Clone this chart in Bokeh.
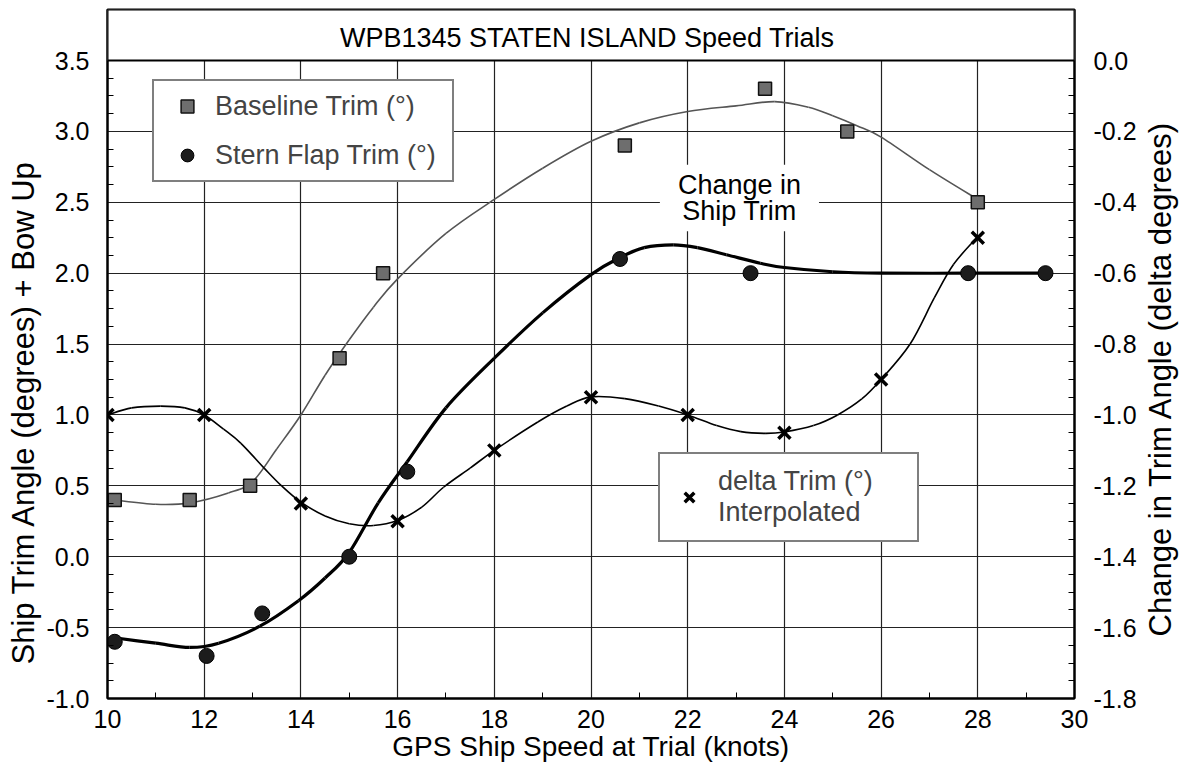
import math
import numpy as np
from bokeh.plotting import figure
from bokeh.layouts import row
from bokeh.models import (Range1d, LinearAxis, FixedTicker, PrintfTickFormatter,
                          Label, BoxAnnotation, Legend, LegendItem, ColumnDataSource, Title)
from bokeh.embed import file_html
from bokeh.resources import INLINE

FONT = "Liberation Sans"

# ---------------- data ----------------
baseline_speed = [10.15, 11.7, 12.95, 14.8, 15.7, 20.7, 23.6, 25.3, 28.0]
baseline_trim = [0.4, 0.4, 0.5, 1.4, 2.0, 2.9, 3.3, 3.0, 2.5]

flap_speed = [10.15, 12.05, 13.2, 15.0, 16.2, 20.6, 23.3, 27.8, 29.4]
flap_trim = [-0.6, -0.7, -0.4, 0.0, 0.6, 2.1, 2.0, 2.0, 2.0]

delta_speed = [10, 12, 14, 16, 18, 20, 22, 24, 26, 28]
delta_trim = [-1.0, -1.0, -1.25, -1.3, -1.1, -0.95, -1.0, -1.05, -0.9, -0.5]

# fitted curves
baseline_fit_speed = [10.15, 11.0, 11.7, 12.5, 13.0, 13.5, 14.0, 14.5, 15.0, 15.5, 16.0,
                      17.0, 18.0, 19.0, 20.0, 21.0, 22.0, 23.0, 23.8, 24.5, 25.0, 25.5,
                      26.0, 27.0, 28.0]
baseline_fit_trim = [0.40, 0.37, 0.38, 0.45, 0.53, 0.76, 1.00, 1.28, 1.53, 1.76, 1.96,
                     2.28, 2.52, 2.74, 2.93, 3.06, 3.14, 3.18, 3.21, 3.17, 3.11, 3.04,
                     2.96, 2.73, 2.52]

flap_fit_speed = [10.1, 11.0, 11.7, 12.3, 13.15, 13.95, 14.5, 15.0, 15.6, 16.2, 17.0,
                  18.0, 19.0, 20.0, 20.6, 21.1, 21.7, 22.2, 22.8, 23.5, 24.0, 25.0,
                  26.0, 27.8, 29.4]
flap_fit_trim = [-0.57, -0.61, -0.64, -0.61, -0.49, -0.31, -0.15, 0.03, 0.38, 0.67, 1.05,
                 1.40, 1.72, 1.99, 2.11, 2.18, 2.20, 2.18, 2.13, 2.07, 2.04, 2.01,
                 2.0, 2.0, 2.0]

delta_fit_speed = [10.0, 10.5, 11.1, 11.6, 12.0, 12.4, 12.76, 13.24, 13.6, 14.0, 14.5,
                   15.0, 15.5, 16.0, 16.5, 16.95, 17.5, 18.0, 18.9, 19.5, 20.0, 20.7,
                   21.4, 22.0, 22.6, 23.1, 23.6, 24.0, 24.6, 25.1, 25.6, 26.0, 26.6,
                   27.1, 27.5, 28.0]
delta_fit_trim = [-1.0, -0.98, -0.975, -0.98, -1.0, -1.04, -1.08, -1.15, -1.20, -1.246,
                  -1.285, -1.307, -1.312, -1.298, -1.26, -1.204, -1.15, -1.10, -1.02,
                  -0.975, -0.949, -0.954, -0.975, -1.0, -1.03, -1.047, -1.052, -1.048,
                  -1.03, -1.0, -0.955, -0.9, -0.80, -0.67, -0.575, -0.497]

x_ticks = [10, 12, 14, 16, 18, 20, 22, 24, 26, 28, 30]
x_minor_ticks = [11, 13, 15, 17, 19, 21, 23, 25, 27, 29]
left_ticks = [-1.0, -0.5, 0.0, 0.5, 1.0, 1.5, 2.0, 2.5, 3.0, 3.5]
right_ticks = [-1.8, -1.6, -1.4, -1.2, -1.0, -0.8, -0.6, -0.4, -0.2, 0.0]

title_text = "WPB1345 STATEN ISLAND  Speed Trials"
x_label = "GPS Ship Speed at Trial (knots)"
left_label = "Ship Trim Angle (degrees)  + Bow Up"
right_label = "Change in Trim Angle (delta degrees)"
note_text = "Change in\nShip Trim"
legend_labels = ["Baseline Trim (°)", "Stern Flap Trim (°)", "delta Trim (°)\nInterpolated"]

# ---------------- layout ----------------
TOTAL_W, H = 1179, 774
SIDE_W = 40                      # strip holding the right-hand axis title
W = TOTAL_W - SIDE_W
B_LEFT, B_TOP = 105, 9
FRAME_W, FRAME_H = 970, 689
B_RIGHT = W - B_LEFT - FRAME_W
B_BOTTOM = H - B_TOP - FRAME_H
TITLE_PX = 51

y_bottom, y_plot_top = left_ticks[0], left_ticks[-1]
y_top = y_bottom + (y_plot_top - y_bottom) * FRAME_H / (FRAME_H - TITLE_PX)
r_bottom, r_plot_top = right_ticks[0], right_ticks[-1]
r_top = r_bottom + (r_plot_top - r_bottom) * FRAME_H / (FRAME_H - TITLE_PX)


def smooth(xs, ys):
    """Catmull-Rom -> cubic Bezier segments through the traced points."""
    n = len(xs)
    d = {k: [] for k in ("x0", "y0", "x1", "y1", "cx0", "cy0", "cx1", "cy1")}
    for i in range(n - 1):
        im = max(i - 1, 0)
        ip = min(i + 2, n - 1)
        d["x0"].append(xs[i]); d["y0"].append(ys[i])
        d["x1"].append(xs[i + 1]); d["y1"].append(ys[i + 1])
        d["cx0"].append(xs[i] + (xs[i + 1] - xs[im]) / 6.0)
        d["cy0"].append(ys[i] + (ys[i + 1] - ys[im]) / 6.0)
        d["cx1"].append(xs[i + 1] - (xs[ip] - xs[i]) / 6.0)
        d["cy1"].append(ys[i + 1] - (ys[ip] - ys[i]) / 6.0)
    return ColumnDataSource(d)


p = figure(width=W, height=H, output_backend="svg", toolbar_location=None,
           x_range=Range1d(x_ticks[0], x_ticks[-1]), y_range=Range1d(y_bottom, y_top),
           min_border_left=B_LEFT, min_border_right=B_RIGHT,
           min_border_top=B_TOP, min_border_bottom=B_BOTTOM,
           background_fill_color="white", border_fill_color="white",
           outline_line_color="black", outline_line_width=2)
p.extra_y_ranges = {"r": Range1d(r_bottom, r_top)}

# axes
left_minor = [v for v in np.arange(y_bottom, y_plot_top + 1e-9, 0.125).round(3).tolist()
              if v not in left_ticks]
right_minor = [v for v in np.arange(r_bottom, r_plot_top + 1e-9, 0.05).round(3).tolist()
               if round(v, 3) not in [round(t, 3) for t in right_ticks]]

xaxis = p.xaxis[0]
xaxis.ticker = FixedTicker(ticks=x_ticks, minor_ticks=x_minor_ticks)
yaxis = p.yaxis[0]
yaxis.ticker = FixedTicker(ticks=left_ticks, minor_ticks=left_minor)
yaxis.formatter = PrintfTickFormatter(format="%.1f")
raxis = LinearAxis(y_range_name="r",
                   ticker=FixedTicker(ticks=right_ticks, minor_ticks=right_minor),
                   formatter=PrintfTickFormatter(format="%.1f"))
p.add_layout(raxis, "right")

for ax in (xaxis, yaxis, raxis):
    ax.axis_line_color = "black"
    ax.axis_line_width = 2
    ax.major_tick_in = 0
    ax.major_tick_out = 0
    ax.minor_tick_in = 6
    ax.minor_tick_out = 0
    ax.minor_tick_line_color = "black"
    ax.minor_tick_line_width = 1
    ax.major_label_text_font = FONT
    ax.major_label_text_font_size = "25px"
    ax.major_label_text_color = "black"

yaxis.major_label_standoff = 18
raxis.major_label_standoff = 19
xaxis.major_label_standoff = 11

xaxis.axis_label = x_label
xaxis.axis_label_text_font = FONT
xaxis.axis_label_text_font_size = "28px"
xaxis.axis_label_text_font_style = "normal"
xaxis.axis_label_text_color = "black"
xaxis.axis_label_standoff = 0

# left axis title (rotated, reads bottom to top)
p.add_layout(Title(text=left_label, align="left", offset=34, vertical_align="bottom",
                   standoff=6, text_font=FONT, text_font_size="31px",
                   text_font_style="normal", text_color="black"), "left")

# grid
p.xgrid.ticker = FixedTicker(ticks=x_ticks)
p.ygrid.ticker = FixedTicker(ticks=left_ticks)
for g in (p.xgrid, p.ygrid):
    g.grid_line_color = "#222222"
    g.grid_line_width = 1.2

# curves
p.bezier(x0="x0", y0="y0", x1="x1", y1="y1", cx0="cx0", cy0="cy0", cx1="cx1", cy1="cy1",
         source=smooth(baseline_fit_speed, baseline_fit_trim),
         line_color="#555555", line_width=1.6)
p.bezier(x0="x0", y0="y0", x1="x1", y1="y1", cx0="cx0", cy0="cy0", cx1="cx1", cy1="cy1",
         source=smooth(flap_fit_speed, flap_fit_trim),
         line_color="black", line_width=3.2)
p.bezier(x0="x0", y0="y0", x1="x1", y1="y1", cx0="cx0", cy0="cy0", cx1="cx1", cy1="cy1",
         source=smooth(delta_fit_speed, delta_fit_trim), y_range_name="r",
         line_color="black", line_width=1.6)

# points
r_base = p.scatter(baseline_speed, baseline_trim, marker="square", size=13,
                   fill_color="#6e6e6e", line_color="#111111", line_width=1.5)
r_flap = p.scatter(flap_speed, flap_trim, marker="circle", size=15,
                   fill_color="#1c1c1c", line_color="black", line_width=1)
r_delta = p.scatter(delta_speed, delta_trim, marker="x", size=17, y_range_name="r",
                    line_color="black", line_width=3.5)

# title band
p.add_layout(BoxAnnotation(bottom=y_plot_top, fill_color="white", fill_alpha=1.0,
                           line_color="black", line_width=2, line_alpha=1.0))
p.add_layout(Label(x=(x_ticks[0] + x_ticks[-1]) / 2, y=(y_plot_top + y_top) / 2 - 0.02,
                   text=title_text, text_align="center", text_baseline="middle",
                   text_font=FONT, text_font_size="27px", text_color="black"))

# inline note
p.add_layout(Label(x=23.07, y=2.53, text=note_text, text_align="center",
                   text_baseline="middle", text_font=FONT, text_font_size="27px",
                   text_color="black", text_line_height=0.88,
                   background_fill_color="white", background_fill_alpha=1.0,
                   padding=dict(left=18, right=18, top=5, bottom=5)))

# legends
leg1 = Legend(items=[LegendItem(label=legend_labels[0], renderers=[r_base]),
                     LegendItem(label=legend_labels[1], renderers=[r_flap])],
              location=(45, 516), margin=0, padding=9, spacing=17,
              glyph_width=48, glyph_height=32, label_height=32, label_width=228,
              label_standoff=4, label_text_font=FONT, label_text_font_size="27px",
              border_line_color="black", border_line_width=2,
              background_fill_color="white", background_fill_alpha=1.0)
leg2 = Legend(items=[LegendItem(label=legend_labels[2], renderers=[r_delta])],
              location=(551, 156), margin=0, padding=12, spacing=0,
              glyph_width=34, glyph_height=54, label_height=54, label_width=187,
              label_standoff=12, label_text_font=FONT, label_text_font_size="27px",
              label_text_line_height=0.75,
              border_line_color="black", border_line_width=2,
              background_fill_color="white", background_fill_alpha=1.0)
p.add_layout(leg1)
p.add_layout(leg2)

# narrow strip to the right holding the right-hand axis title (reads bottom to top);
# its frame is aligned with the main frame by the row layout
side = figure(width=SIDE_W, height=H, output_backend="svg", toolbar_location=None,
              x_range=Range1d(0, 1), y_range=Range1d(0, 1),
              x_axis_location=None, y_axis_location=None,
              min_border_left=0, min_border_right=0, min_border_top=0, min_border_bottom=0,
              background_fill_color="white", border_fill_color="white",
              outline_line_color=None)
side.grid.visible = False
side.add_layout(Label(x=21, y=320, x_units="screen", y_units="screen",
                      text=right_label, angle=90, angle_units="deg",
                      text_align="center", text_baseline="middle",
                      text_font=FONT, text_font_size="31px", text_color="black"))

open("out.html", "w").write(file_html(row(p, side), INLINE))
